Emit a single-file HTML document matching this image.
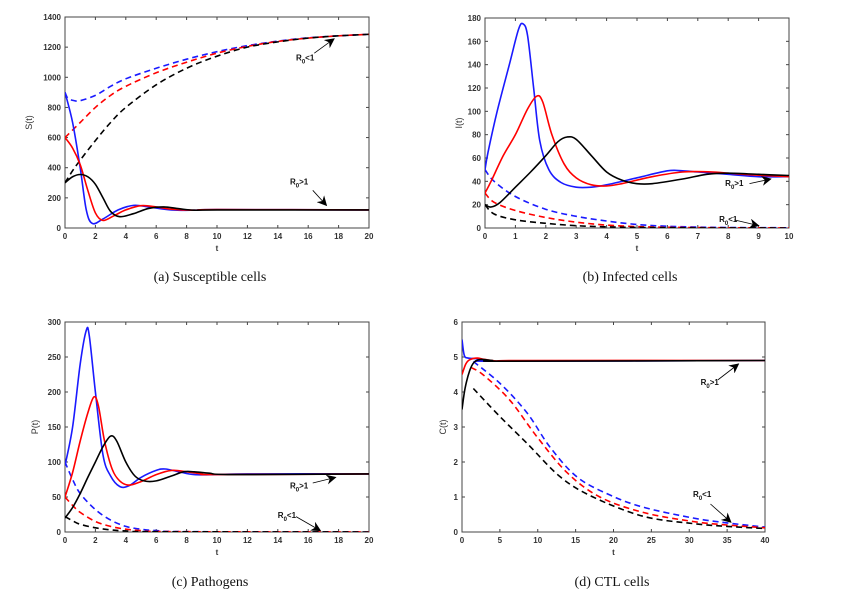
<!DOCTYPE html>
<html><head><meta charset="utf-8"><style>
html,body{margin:0;padding:0;background:#fff;}
svg{display:block;}
.tk{font-family:"Liberation Sans",sans-serif;font-size:8px;font-weight:bold;fill:#333;}
.cap{font-family:"Liberation Serif",serif;font-size:14px;fill:#111;}
.ann{font-family:"Liberation Sans",sans-serif;font-size:8px;font-weight:bold;fill:#111;}
</style></head><body>
<svg id="chart" width="857" height="597" xmlns="http://www.w3.org/2000/svg"></svg>
<script>
// ---- Panel (a) Susceptible cells ----
const aBlueSolid=[[0,900],[0.5,700],[1,400],[1.4,120],[1.8,30],[2.5,60],[3.5,120],[4.5,150],[5.5,140],[7,120],[8.5,118],[10,122],[20,120]];
const aRedSolid=[[0,600],[0.5,530],[1,420],[1.5,250],[2,100],[2.5,50],[3.2,80],[4,120],[5,148],[6,140],[7,125],[8.5,118],[10,122],[20,120]];
const aBlackSolid=[[0,300],[0.5,340],[1,355],[1.5,340],[2,290],[2.5,200],[3,110],[3.6,75],[4.5,95],[5.5,130],[6.5,140],[7.5,128],[8.5,118],[10,120],[20,120]];
const aBlueDash=[[0,900],[0.2,860],[0.6,845],[1,845],[2,880],[3,940],[4,990],[6,1060],[8,1120],[10,1170],[12,1210],[14,1240],[16,1262],[18,1275],[20,1285]];
const aRedDash=[[0,600],[1,700],[2,800],[3,880],[4,940],[6,1030],[8,1100],[10,1160],[12,1205],[14,1238],[16,1260],[18,1275],[20,1285]];
const aBlackDash=[[0,300],[0.5,380],[1,450],[2,580],[3,700],[4,800],[6,950],[8,1060],[10,1140],[12,1200],[14,1235],[16,1260],[18,1275],[20,1285]];
const aXTicks=[0,2,4,6,8,10,12,14,16,18,20];
const aYTicks=[0,200,400,600,800,1000,1200,1400];
// ---- Panel (b) Infected cells ----
const bBlueSolid=[[0,50],[0.1,65],[0.4,100],[0.8,140],[1.1,170],[1.25,175],[1.4,165],[1.6,120],[1.8,75],[2.1,50],[2.5,39],[3,35],[3.5,35],[4,37],[5,43],[6,49],[6.5,49],[7,48],[8,46],[9,44],[10,44]];
const bRedSolid=[[0,30],[0.2,40],[0.6,62],[1,80],[1.4,102],[1.7,113],[1.9,108],[2.2,80],[2.6,55],[3,43],[3.5,37],[4,36],[4.5,38],[5.5,44],[6.5,48],[7.5,48],[8.5,46],[10,44]];
const bBlackSolid=[[0,20],[0.2,18],[0.5,22],[1,35],[1.5,48],[2,62],[2.4,74],[2.7,78],[3,76],[3.5,62],[4,48],[4.5,41],[5,38],[5.5,38],[6.5,42],[7.3,46],[8,47],[9,46],[10,45]];
const bBlueDash=[[0,50],[0.3,40],[1,27],[2,16],[3,10],[4,6],[5,3],[6,1.5],[7,0.8],[8,0.4],[10,0.2]];
const bRedDash=[[0,30],[0.3,22],[1,15],[2,9],[3,5],[4,2.5],[5,1.2],[6,0.6],[8,0.2],[10,0.1]];
const bBlackDash=[[0,20],[0.3,12],[1,7],[2,4],[3,2],[4,1],[5,0.5],[7,0.1],[10,0]];
const bXTicks=[0,1,2,3,4,5,6,7,8,9,10];
const bYTicks=[0,20,40,60,80,100,120,140,160,180];
// ---- Panel (c) Pathogens ----
const cBlueSolid=[[0,95],[0.5,150],[1,240],[1.4,288],[1.6,280],[2,200],[2.5,110],[3,80],[3.6,65],[4.2,66],[5,78],[6,88],[6.6,90],[7.5,86],[8.5,82],[10,82],[12,83],[20,83]];
const cRedSolid=[[0,50],[0.5,85],[1,130],[1.5,170],[1.9,193],[2.2,180],[2.6,130],[3.1,90],[3.6,73],[4.2,67],[5,72],[6,82],[7,88],[8,86],[9,83],[10,82],[20,83]];
const cBlackSolid=[[0,20],[0.5,35],[1,55],[1.5,78],[2,100],[2.5,122],[3,137],[3.4,130],[4,100],[4.6,80],[5.2,73],[6,73],[7,80],[7.8,86],[8.5,86],[9.5,84],[11,82],[20,83]];
const cBlueDash=[[0,100],[0.5,75],[1,55],[2,32],[3,17],[4,8],[5,4],[6,2],[8,0.5],[20,0]];
const cRedDash=[[0,50],[0.5,38],[1,28],[2,15],[3,8],[4,4],[5,2],[7,0.5],[20,0]];
const cBlackDash=[[0,22],[0.5,16],[1,11],[2,6],[3,3],[4,1.5],[6,0.4],[20,0]];
const cXTicks=[0,2,4,6,8,10,12,14,16,18,20];
const cYTicks=[0,50,100,150,200,250,300];
// ---- Panel (d) CTL cells ----
const dBlueSolid=[[0,5.5],[0.3,5.05],[0.8,4.97],[2,4.95],[3,4.9],[5,4.88],[40,4.9]];
const dRedSolid=[[0,4.5],[0.5,4.8],[1,4.92],[2,4.97],[3,4.93],[5,4.88],[8,4.9],[40,4.9]];
const dBlackSolid=[[0,3.5],[0.4,4.1],[1,4.6],[1.6,4.85],[2.5,4.93],[4,4.9],[6,4.88],[40,4.9]];
const dBlueDash=[[1.5,4.87],[5,4.25],[8.6,3.4],[11.6,2.43],[15.2,1.57],[19.5,1.06],[23.9,0.71],[30.5,0.4],[35,0.26],[40,0.14]];
const dRedDash=[[1.2,4.7],[2.8,4.49],[6.3,3.77],[9.9,2.72],[13.9,1.69],[18.2,1.0],[23.9,0.56],[30.5,0.3],[35,0.2],[40,0.12]];
const dBlackDash=[[1.5,4.1],[5,3.3],[8.6,2.53],[13,1.57],[17.3,1.0],[23.9,0.45],[30.5,0.24],[35,0.16],[40,0.1]];
const dXTicks=[0,5,10,15,20,25,30,35,40];
const dYTicks=[0,1,2,3,4,5,6];

const NS="http://www.w3.org/2000/svg";
const svg=document.getElementById('chart');
function mk(tag,attrs,parent){const e=document.createElementNS(NS,tag);for(const k in attrs)e.setAttribute(k,attrs[k]);(parent||svg).appendChild(e);return e;}
const defs=mk('defs',{});
const mrk=mk('marker',{id:'arr',markerWidth:10,markerHeight:10,refX:9,refY:5,orient:'auto',markerUnits:'userSpaceOnUse'},defs);
mk('path',{d:'M0,0 L10,5 L0,10 L3,5 Z',fill:'#000'},mrk);

function smooth(pts){
  let d='M'+pts[0][0].toFixed(2)+','+pts[0][1].toFixed(2);
  for(let i=0;i<pts.length-1;i++){
    const p0=pts[Math.max(0,i-1)],p1=pts[i],p2=pts[i+1],p3=pts[Math.min(pts.length-1,i+2)];
    const c1=[p1[0]+(p2[0]-p0[0])/6,p1[1]+(p2[1]-p0[1])/6];
    const c2=[p2[0]-(p3[0]-p1[0])/6,p2[1]-(p3[1]-p1[1])/6];
    d+=' C'+c1[0].toFixed(2)+','+c1[1].toFixed(2)+' '+c2[0].toFixed(2)+','+c2[1].toFixed(2)+' '+p2[0].toFixed(2)+','+p2[1].toFixed(2);
  }
  return d;
}

function panel(cfg){
  const g=mk('g',{});
  
  
  const {x0,x1,y0,y1,xmax,ymax}=cfg;
  const sx=v=>x0+(x1-x0)*v/xmax, sy=v=>y1-(y1-y0)*v/ymax;
  const box=mk('rect',{x:x0,y:y0,width:x1-x0,height:y1-y0,fill:'none',stroke:'#444','stroke-width':1},g);
  
  
  cfg.xt.forEach(v=>{
    const x=sx(v);
    mk('line',{x1:x,x2:x,y1:y1,y2:y1-3,stroke:'#444'},g);
    mk('line',{x1:x,x2:x,y1:y0,y2:y0+3,stroke:'#444'},g);
    const t=mk('text',{x:x,y:y1+11,'text-anchor':'middle',class:'tk'},g);t.textContent=v;
    
    
  });
  cfg.yt.forEach(v=>{
    const y=sy(v);
    mk('line',{x1:x0,x2:x0+3,y1:y,y2:y,stroke:'#444'},g);
    mk('line',{x1:x1,x2:x1-3,y1:y,y2:y,stroke:'#444'},g);
    const t=mk('text',{x:x0-4,y:y+3,'text-anchor':'end',class:'tk'},g);t.textContent=v;
    
    
  });
  const xl=mk('text',{x:(x0+x1)/2,y:y1+23,'text-anchor':'middle',class:'tk'},g);xl.textContent='t';
  
  
  const yx=x0-cfg.ylOff, yy=(y0+y1)/2;
  const yl=mk('text',{x:yx,y:yy,'text-anchor':'middle',class:'tk',transform:'rotate(-90 '+yx+' '+yy+')',style:'font-weight:normal;font-size:9px'},g);yl.textContent=cfg.ylabel;
  
  
  const clip=mk('clipPath',{id:'clip'+cfg.id},defs);
  mk('rect',{x:x0,y:y0-2,width:x1-x0,height:y1-y0+2},clip);
  cfg.series.forEach(s=>{
    const pts=s.data.map(p=>[sx(p[0]),sy(p[1])]);
    const p=mk('path',{d:smooth(pts),fill:'none',stroke:s.c,'stroke-width':1.6,'clip-path':'url(#clip'+cfg.id+')'},g);
    if(s.dash)p.setAttribute('stroke-dasharray','6 4');
    
    
  });
  cfg.ann.forEach(a=>{
    const t=mk('text',{x:sx(a.tx),y:sy(a.ty),class:'ann'},g);
    t.innerHTML='R<tspan dy="3" font-size="6">0</tspan><tspan dy="-3">'+a.s+'</tspan>';
    
    
    const l=mk('line',{x1:sx(a.ax0),y1:sy(a.ay0),x2:sx(a.ax1),y2:sy(a.ay1),stroke:'#000','stroke-width':0.8,'marker-end':'url(#arr)'},g);
    
    
  });
  const cap=mk('text',{x:cfg.capx,y:cfg.capy,'text-anchor':'middle',class:'cap'},g);
  cap.textContent=cfg.cap;
  
  
}
const S=(d,c,dash,n)=>({data:d,c:c,dash:dash,n:n});
panel({id:'a',name:'panel-susceptible-cells',x0:65,x1:369,y0:17,y1:228,xmax:20,ymax:1400,xt:aXTicks,yt:aYTicks,ylabel:'S(t)',ylOff:33,
 series:[S(aBlueDash,'#1a1aff',1,'blue-dashed'),S(aRedDash,'#f00',1,'red-dashed'),S(aBlackDash,'#000',1,'black-dashed'),S(aBlueSolid,'#1a1aff',0,'blue-solid'),S(aRedSolid,'#f00',0,'red-solid'),S(aBlackSolid,'#000',0,'black-solid')],
 ann:[{tx:15.2,ty:1110,s:'<1',ax0:16.4,ay0:1160,ax1:17.7,ay1:1255},{tx:14.8,ty:290,s:'>1',ax0:16.3,ay0:250,ax1:17.2,ay1:150}],
 cap:'(a)  Susceptible cells',capx:210,capy:281});
panel({id:'b',name:'panel-infected-cells',x0:485,x1:789,y0:18,y1:228,xmax:10,ymax:180,xt:bXTicks,yt:bYTicks,ylabel:'I(t)',ylOff:23,
 series:[S(bBlueDash,'#1a1aff',1,'blue-dashed'),S(bRedDash,'#f00',1,'red-dashed'),S(bBlackDash,'#000',1,'black-dashed'),S(bBlueSolid,'#1a1aff',0,'blue-solid'),S(bRedSolid,'#f00',0,'red-solid'),S(bBlackSolid,'#000',0,'black-solid')],
 ann:[{tx:7.9,ty:36,s:'>1',ax0:8.7,ay0:38,ax1:9.4,ay1:42},{tx:7.7,ty:5,s:'<1',ax0:8.2,ay0:7,ax1:9,ay1:2}],
 cap:'(b)  Infected cells',capx:630,capy:281});
panel({id:'c',name:'panel-pathogens',x0:65,x1:369,y0:322,y1:532,xmax:20,ymax:300,xt:cXTicks,yt:cYTicks,ylabel:'P(t)',ylOff:27,
 series:[S(cBlueDash,'#1a1aff',1,'blue-dashed'),S(cRedDash,'#f00',1,'red-dashed'),S(cBlackDash,'#000',1,'black-dashed'),S(cBlueSolid,'#1a1aff',0,'blue-solid'),S(cRedSolid,'#f00',0,'red-solid'),S(cBlackSolid,'#000',0,'black-solid')],
 ann:[{tx:14.8,ty:62,s:'>1',ax0:16.3,ay0:70,ax1:17.8,ay1:78},{tx:14,ty:20,s:'<1',ax0:15.2,ay0:22,ax1:16.8,ay1:2}],
 cap:'(c)  Pathogens',capx:210,capy:586});
panel({id:'d',name:'panel-ctl-cells',x0:462,x1:765,y0:322,y1:532,xmax:40,ymax:6,xt:dXTicks,yt:dYTicks,ylabel:'C(t)',ylOff:16,
 series:[S(dBlueDash,'#1a1aff',1,'blue-dashed'),S(dRedDash,'#f00',1,'red-dashed'),S(dBlackDash,'#000',1,'black-dashed'),S(dBlueSolid,'#1a1aff',0,'blue-solid'),S(dRedSolid,'#f00',0,'red-solid'),S(dBlackSolid,'#000',0,'black-solid')],
 ann:[{tx:31.5,ty:4.2,s:'>1',ax0:33.8,ay0:4.35,ax1:36.5,ay1:4.8},{tx:30.5,ty:1.0,s:'<1',ax0:32.8,ay0:0.8,ax1:35.5,ay1:0.28}],
 cap:'(d)  CTL cells',capx:612,capy:586});
</script>
</body></html>
